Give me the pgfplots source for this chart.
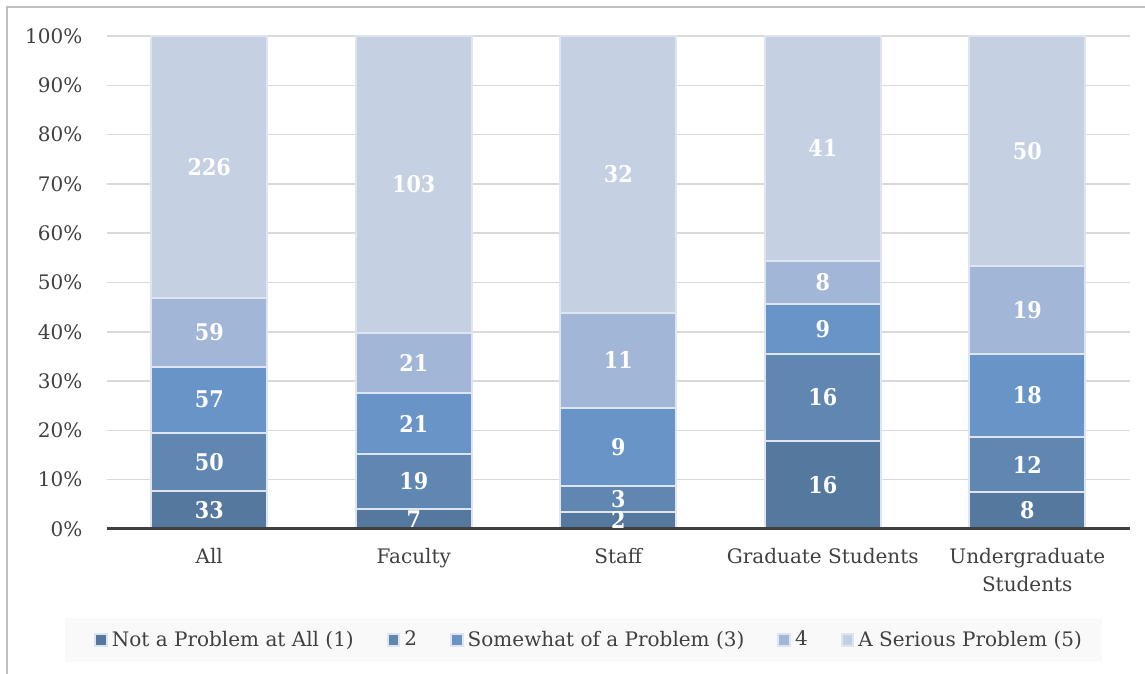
\documentclass[border=0pt]{standalone}
\usepackage{fontspec}
\setmainfont{DejaVu Serif}
\newfontfamily\labfont{DejaVu Serif Condensed}
\usepackage{pgfplots}
\usepackage{pgfplotstable}
\pgfplotsset{compat=1.18}
\definecolor{cA}{RGB}{85,120,158}
\definecolor{cB}{RGB}{96,135,178}
\definecolor{cC}{RGB}{104,148,200}
\definecolor{cD}{RGB}{162,182,215}
\definecolor{cE}{RGB}{197,208,226}
\definecolor{segline}{RGB}{222,229,240}
\definecolor{gridgray}{RGB}{217,217,217}
\definecolor{axisgray}{RGB}{64,64,64}
\definecolor{txtgray}{RGB}{64,64,64}
\definecolor{framegray}{RGB}{192,192,192}
\definecolor{legbg}{RGB}{249,249,249}
% percentages of each group (counts: All 425, Faculty 171, Staff 57, Grad 90, Undergrad 107)
\pgfplotstableread{
x p1 p2 p3 p4 p5
0 7.765 11.765 13.412 13.882 53.176
1 4.094 11.111 12.281 12.281 60.234
2 3.509 5.263 15.789 19.298 56.140
3 17.778 17.778 10.000 8.889 45.556
4 7.477 11.215 16.822 17.757 46.729
}\pct
% label positions (segment centres) and counts
\pgfplotstableread{
x y lab
0 3.88 33
0 13.65 50
0 26.24 57
0 39.88 59
0 73.41 226
1 2.05 7
1 9.65 19
1 21.35 21
1 33.63 21
1 69.88 103
2 1.75 2
2 6.14 3
2 16.67 9
2 34.21 11
2 71.93 32
3 8.89 16
3 26.67 16
3 40.56 9
3 50.00 8
3 77.22 41
4 3.74 8
4 13.08 12
4 27.10 18
4 44.39 19
4 76.64 50
}\labs
\begin{document}
\begin{tikzpicture}
\useasboundingbox (-53.5pt,-72.5pt) rectangle (519pt,264.5pt);
\draw[framegray, line width=1pt] (-50pt,-73pt) -- (-50pt,261pt) -- (520pt,261pt);
\fill[legbg] (-21pt,-44.5pt) rectangle (497.5pt,-66.5pt);
\begin{axis}[
  at={(0pt,0pt)}, anchor=south west,
  scale only axis, width=511.25pt, height=246.5pt,
  ybar stacked, bar width=58pt,
  xmin=-0.5, xmax=4.5, ymin=0, ymax=100,
  xtick={0,1,2,3,4},
  xticklabels={All,Faculty,Staff,Graduate Students,{Undergraduate\\Students}},
  xticklabel style={align=center, yshift=-6pt, text=txtgray, font=\fontsize{10}{14}\selectfont},
  ytick={0,10,...,100},
  yticklabel={\pgfmathprintnumber{\tick}\%},
  yticklabel style={xshift=-8.8pt, text=txtgray, font=\fontsize{10}{12}\selectfont},
  /pgf/number format/assume math mode=true,
  major tick length=0pt,
  ymajorgrids, grid style={gridgray, line width=0.75pt},
  axis line style={draw=none},
  legend columns=5,
  legend style={at={(0.4725,-0.2252)}, anchor=center, draw=none, fill=none,
    font=\fontsize{10}{12}\selectfont, text=txtgray,
    /tikz/every even column/.append style={column sep=14.5pt}},
  legend image code/.code={\fill[#1] (0pt,-3pt) rectangle (5.8pt,3pt);},
  every axis plot/.append style={draw=segline, line width=1pt},
]
\addplot[fill=cA] table[x=x,y=p1]{\pct};
\addplot[fill=cB] table[x=x,y=p2]{\pct};
\addplot[fill=cC] table[x=x,y=p3]{\pct};
\addplot[fill=cD] table[x=x,y=p4]{\pct};
\addplot[fill=cE] table[x=x,y=p5]{\pct};
\legend{Not a Problem at All (1),2,Somewhat of a Problem (3),4,A Serious Problem (5)}
\end{axis}
\begin{axis}[
  at={(0pt,0pt)}, anchor=south west,
  scale only axis, width=511.25pt, height=246.5pt,
  xmin=-0.5, xmax=4.5, ymin=0, ymax=100,
  axis x line=bottom, axis y line=none,
  x axis line style={-, line width=1.5pt, draw=axisgray},
  xtick=\empty, ytick=\empty,
  clip=false,
]
\addplot[draw=none, mark=none, nodes near coords, point meta=explicit symbolic,
  every node near coord/.append style={anchor=center, text=white, font=\labfont\fontsize{11.5}{13}\selectfont\bfseries}]
  table[x=x,y=y,meta=lab]{\labs};
\end{axis}
\end{tikzpicture}
\end{document}
